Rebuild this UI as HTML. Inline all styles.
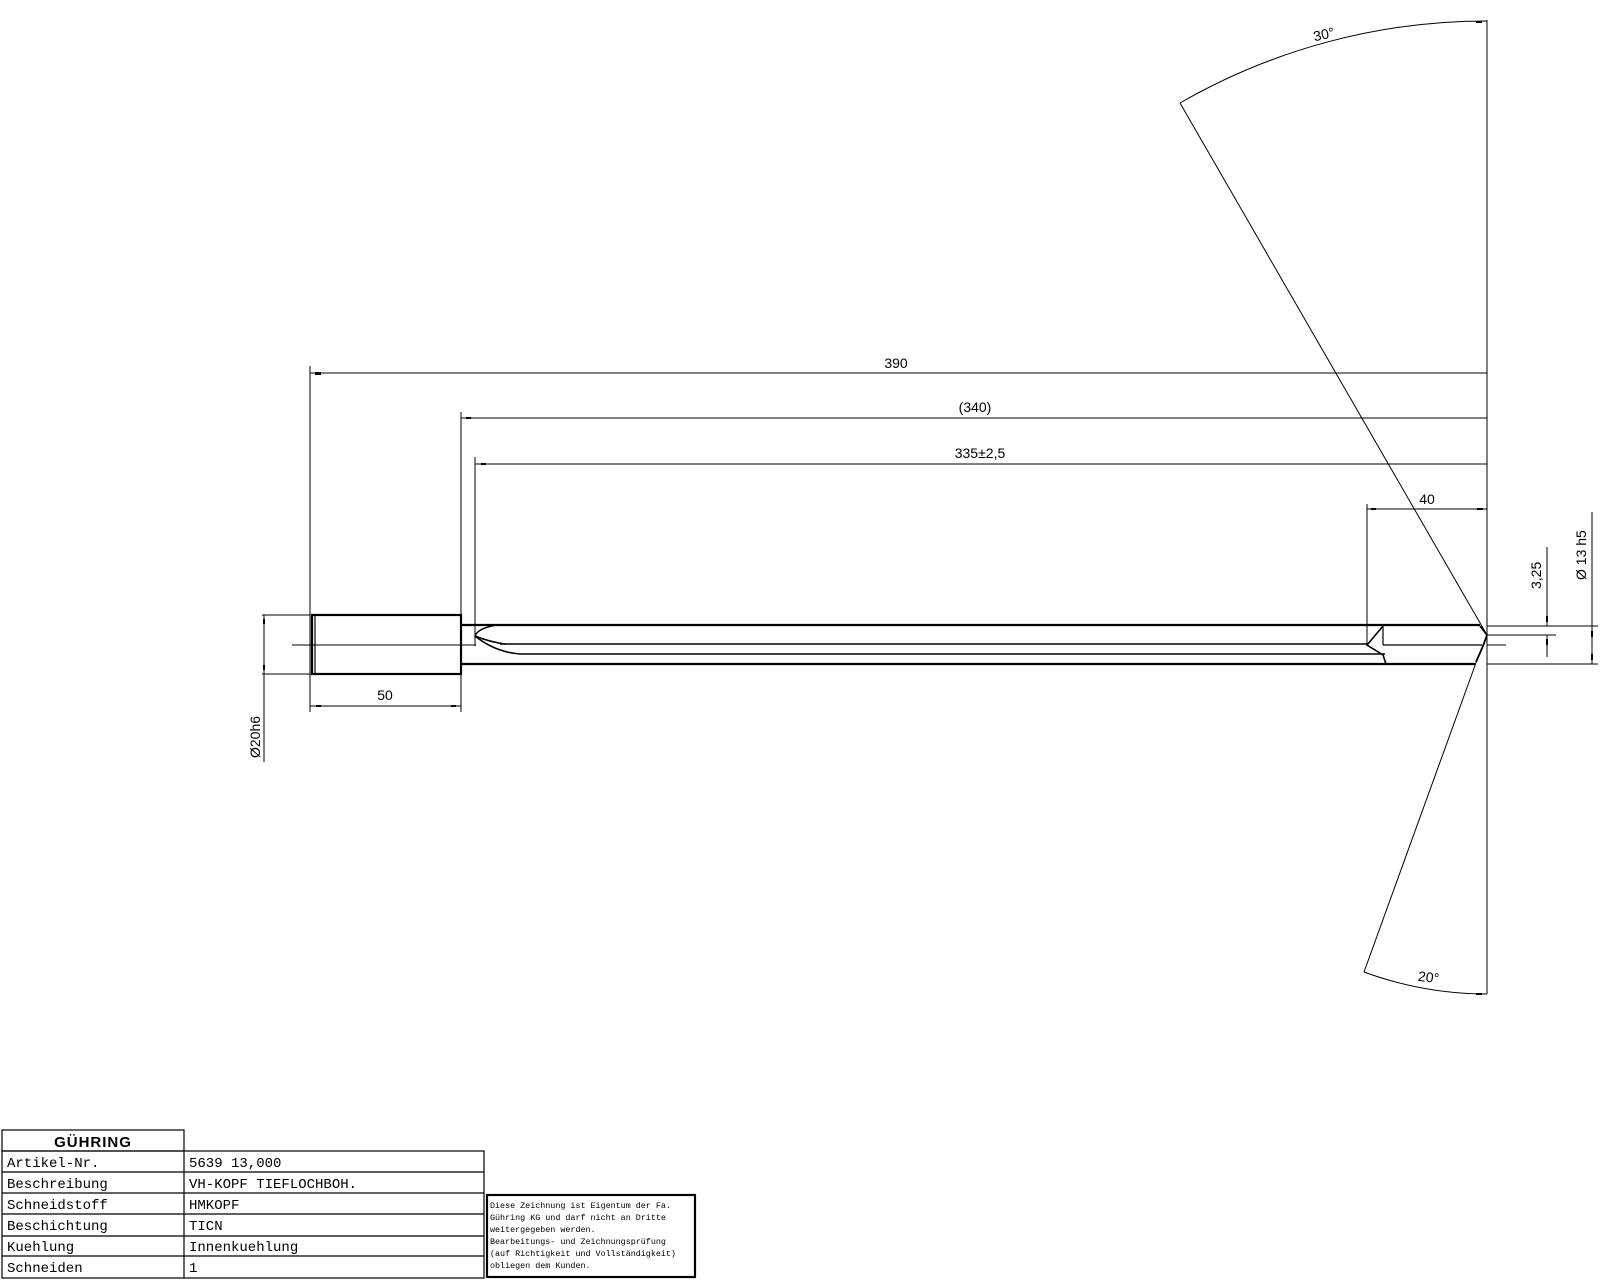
<!DOCTYPE html>
<html><head><meta charset="utf-8"><style>
html,body{margin:0;padding:0;background:#fff;}
svg{display:block;}
text{font-family:"Liberation Sans",sans-serif;fill:#000;}
.m{font-family:"Liberation Mono",monospace;}
</style></head><body>
<svg width="1600" height="1280" viewBox="0 0 1600 1280" xmlns="http://www.w3.org/2000/svg">
<g stroke="#000" fill="none" stroke-width="1">
<!-- right reference vertical -->
<line x1="1487" y1="20" x2="1487" y2="994"/>
<!-- angle lines -->
<line x1="1180" y1="103" x2="1487" y2="635"/>
<line x1="1477" y1="660" x2="1364" y2="972"/>
<!-- arcs -->
<path d="M1180 103 A614 614 0 0 1 1487 21"/>
<path d="M1364 972 A359 359 0 0 0 1487 994"/>
<!-- dims horizontal -->
<line x1="310" y1="373" x2="1487" y2="373"/>
<line x1="461" y1="418" x2="1487" y2="418"/>
<line x1="475" y1="464" x2="1487" y2="464"/>
<line x1="1367" y1="509" x2="1487" y2="509"/>
<line x1="310" y1="706" x2="461" y2="706"/>
<!-- ext verticals -->
<line x1="310" y1="366" x2="310" y2="712"/>
<line x1="461" y1="412" x2="461" y2="712"/>
<line x1="475" y1="457" x2="475" y2="646"/>
<line x1="1367" y1="504" x2="1367" y2="645"/>
<!-- centerline -->
<line x1="292" y1="645" x2="476" y2="645"/>
<!-- Ø20 dim -->
<line x1="262" y1="615" x2="310" y2="615"/>
<line x1="262" y1="674" x2="310" y2="674"/>
<line x1="264" y1="615" x2="264" y2="762"/>
<!-- right dims -->
<line x1="1487" y1="626" x2="1598" y2="626"/>
<line x1="1487" y1="635" x2="1556" y2="635"/>
<line x1="1487" y1="645" x2="1506" y2="645"/>
<line x1="1487" y1="664" x2="1598" y2="664"/>
<line x1="1547" y1="547" x2="1547" y2="626"/>
<line x1="1547" y1="635" x2="1547" y2="657"/>
<line x1="1592" y1="512" x2="1592" y2="664"/>
</g>
<!-- arrow ticks -->
<g fill="#000">
<rect x="315" y="372" width="6" height="3"/>
<rect x="466" y="417" width="5" height="2"/>
<rect x="481" y="463" width="5" height="2"/>
<rect x="1371" y="508" width="5" height="2"/>
<rect x="1477" y="508" width="6" height="2"/>
<rect x="316" y="705" width="5" height="2"/>
<rect x="451" y="705" width="5" height="2"/>
<rect x="263" y="619" width="2" height="5"/>
<rect x="263" y="665" width="2" height="5"/>
<rect x="1546" y="616" width="2" height="6"/>
<rect x="1546" y="639" width="2" height="6"/>
<rect x="1591" y="631" width="2" height="6"/>
<rect x="1591" y="654" width="2" height="6"/>
<rect x="1476" y="21" width="6" height="2"/>
<rect x="1476" y="993" width="6" height="2"/>
</g>
<!-- part -->
<g stroke="#000" fill="none" stroke-width="2.2">
<rect x="312" y="615" width="149" height="59"/>
<line x1="315" y1="615" x2="315" y2="674" stroke-width="1.2"/>
<line x1="461" y1="625" x2="1480" y2="625"/>
<line x1="461" y1="664" x2="1475" y2="664"/>
<line x1="500" y1="644" x2="1367" y2="644" stroke-width="1.6"/>
<line x1="520" y1="654" x2="1385" y2="654" stroke-width="1.6"/>
<path d="M497 625 Q478 628 475 636 Q490 642 505 644" stroke-width="1.6"/>
<path d="M475 636 Q495 652 520 654" stroke-width="1.6"/>
<path d="M1383 626 L1367 645 L1383 655 L1386 664" stroke-width="1.6"/>
<line x1="1383" y1="626" x2="1383" y2="645" stroke-width="1.2"/>
<path d="M1480 626 L1487 635 L1483 646 L1476 662" stroke-width="1.8"/>
<line x1="1383" y1="645" x2="1482" y2="645" stroke-width="1.2"/>
</g>
<!-- labels -->
<g font-size="14">
<text x="896" y="368" text-anchor="middle">390</text>
<text x="975" y="412" text-anchor="middle">(340)</text>
<text x="980" y="458" text-anchor="middle">335±2,5</text>
<text x="1427" y="504" text-anchor="middle">40</text>
<text x="385" y="700" text-anchor="middle">50</text>
<text x="1325" y="39" text-anchor="middle" transform="rotate(-13 1325 39)">30°</text>
<text x="1428" y="982" text-anchor="middle" transform="rotate(7 1428 982)">20°</text>
<text transform="translate(260 758) rotate(-90)">Ø20h6</text>
<text transform="translate(1541 589) rotate(-90)">3,25</text>
<text transform="translate(1586 580) rotate(-90)">Ø 13 h5</text>
</g>
<!-- title block -->
<g stroke="#000" fill="none" stroke-width="1.2">
<rect x="2" y="1130" width="182" height="21"/>
<rect x="2" y="1151" width="482" height="127"/>
<line x1="184" y1="1151" x2="184" y2="1278"/>
<line x1="2" y1="1172" x2="484" y2="1172"/>
<line x1="2" y1="1193" x2="484" y2="1193"/>
<line x1="2" y1="1214" x2="484" y2="1214"/>
<line x1="2" y1="1236" x2="484" y2="1236"/>
<line x1="2" y1="1256" x2="484" y2="1256"/>
<rect x="487" y="1195" width="208" height="82" stroke-width="2.2"/>
</g>
<text x="93" y="1147" text-anchor="middle" font-size="15" font-weight="bold" letter-spacing="1" style="font-family:'Liberation Sans',sans-serif">GÜHRING</text>
<g class="m" font-size="14">
<text class="m" x="7" y="1167">Artikel-Nr.</text>
<text class="m" x="7" y="1188">Beschreibung</text>
<text class="m" x="7" y="1209">Schneidstoff</text>
<text class="m" x="7" y="1230">Beschichtung</text>
<text class="m" x="7" y="1251">Kuehlung</text>
<text class="m" x="7" y="1272">Schneiden</text>
<text class="m" x="189" y="1167">5639 13,000</text>
<text class="m" x="189" y="1188">VH-KOPF TIEFLOCHBOH.</text>
<text class="m" x="189" y="1209">HMKOPF</text>
<text class="m" x="189" y="1230">TICN</text>
<text class="m" x="189" y="1251">Innenkuehlung</text>
<text class="m" x="189" y="1272">1</text>
</g>
<g class="m" font-size="8.4">
<text class="m" x="490" y="1208">Diese Zeichnung ist Eigentum der Fa.</text>
<text class="m" x="490" y="1220">Gühring KG und darf nicht an Dritte</text>
<text class="m" x="490" y="1232">weitergegeben werden.</text>
<text class="m" x="490" y="1244">Bearbeitungs- und Zeichnungsprüfung</text>
<text class="m" x="490" y="1256">(auf Richtigkeit und Vollständigkeit)</text>
<text class="m" x="490" y="1268">obliegen dem Kunden.</text>
</g>
</svg>
</body></html>
